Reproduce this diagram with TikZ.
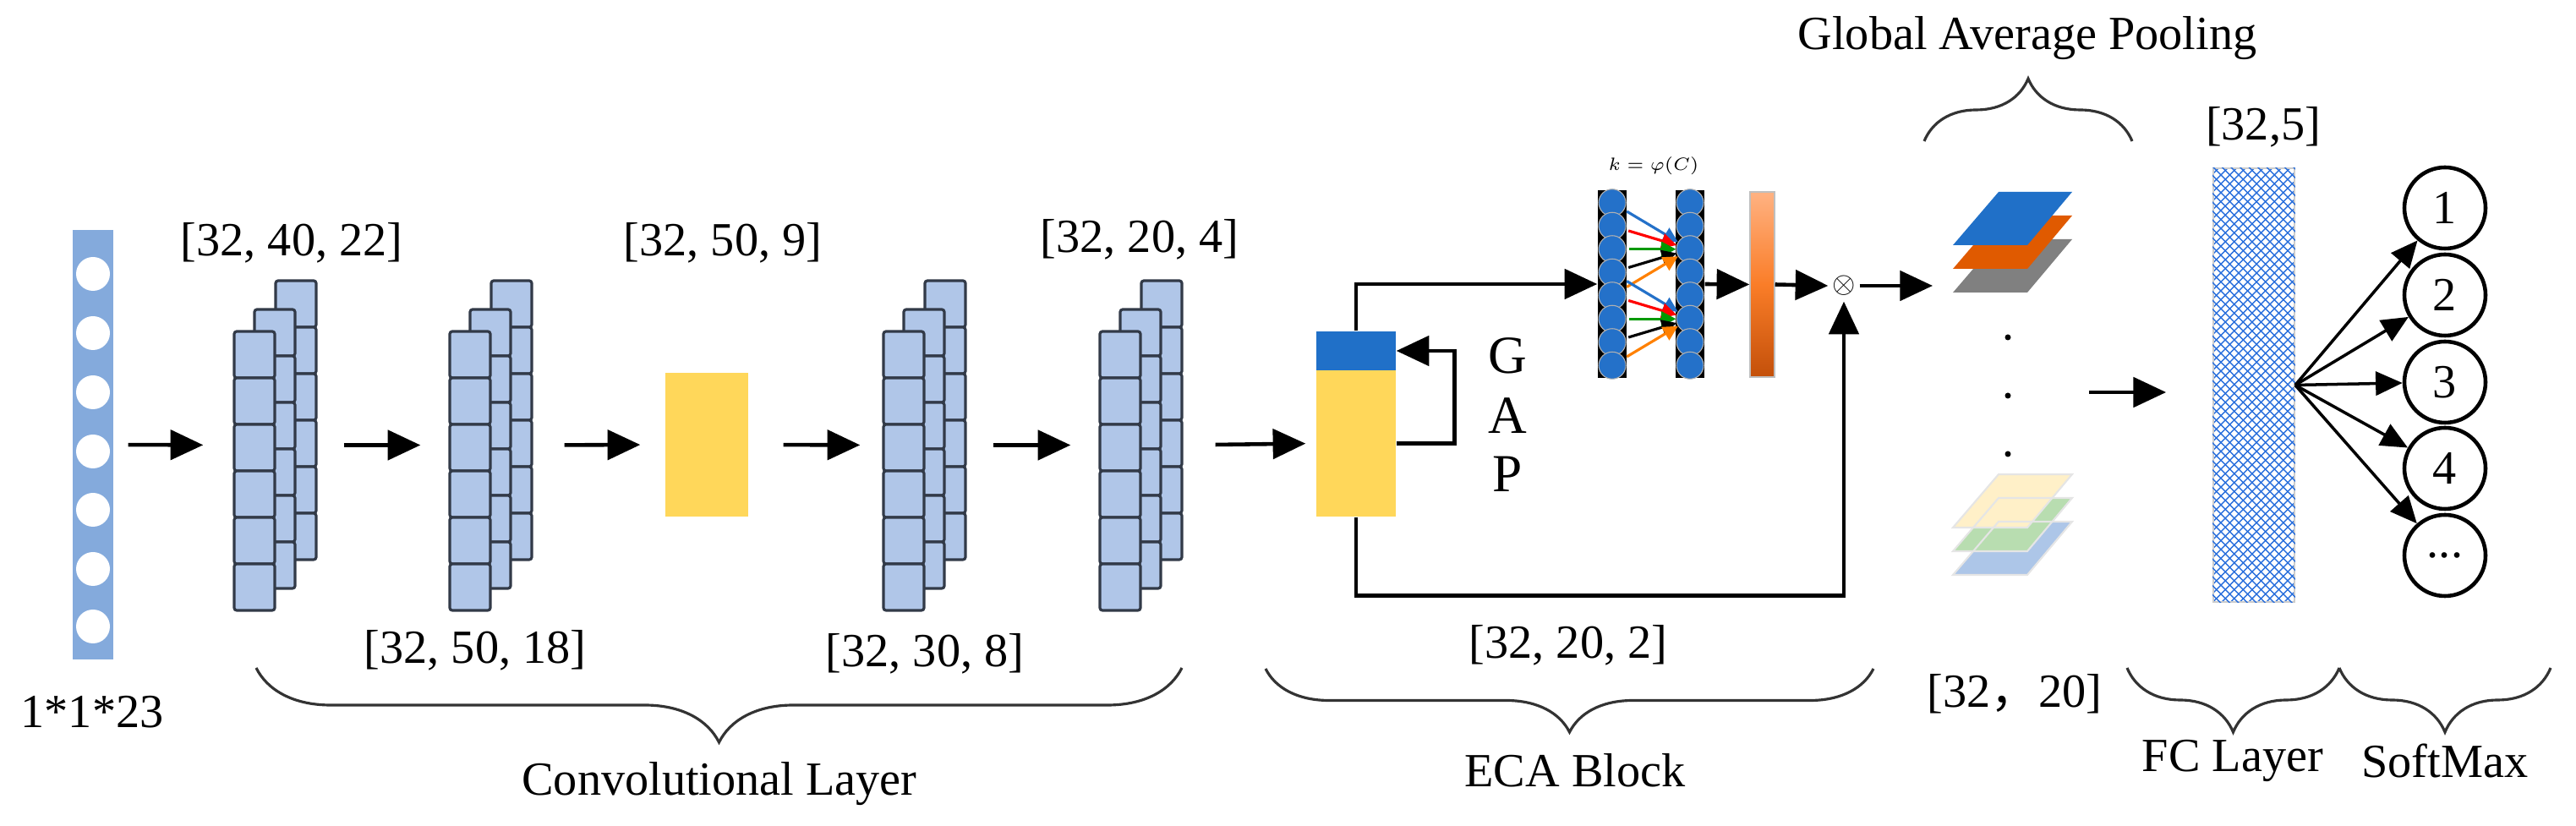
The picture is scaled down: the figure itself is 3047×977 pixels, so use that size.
\documentclass[tikz,border=0pt]{standalone}
\usepackage{fontspec}
\setmainfont{Liberation Serif}
\newfontfamily\cjk{Noto Sans CJK SC}
\usetikzlibrary{arrows.meta,decorations.pathreplacing,patterns,calc}
\newdimen\pxu \pxu=0.01cm
\definecolor{inblue}{RGB}{132,170,220}
\definecolor{sqblue}{RGB}{176,198,232}
\definecolor{sqedge}{RGB}{50,58,72}
\definecolor{ylw}{RGB}{255,215,90}
\definecolor{ecablue}{RGB}{32,112,200}
\definecolor{cblue}{RGB}{36,113,201}
\definecolor{porange}{RGB}{224,90,0}
\definecolor{pgray}{RGB}{128,128,128}
\definecolor{pcream}{RGB}{255,240,200}
\definecolor{pgreen}{RGB}{184,221,176}
\definecolor{plblue}{RGB}{173,198,232}
\definecolor{fcblue}{RGB}{40,110,220}
\definecolor{orA}{RGB}{255,178,130}
\definecolor{orB}{RGB}{250,125,40}
\definecolor{orC}{RGB}{195,80,10}
\tikzset{
  lbl/.style={font=\fontsize{16}{18}\selectfont, inner sep=0},
  arr/.style={line width=1.3pt, -{Triangle[length=11pt,width=10pt]}},
  fan/.style={line width=1pt, -{Triangle[length=9pt,width=8pt]}},
  sm/.style={line width=0.9pt, -{Triangle[length=5pt,width=5pt]}, shorten <=1pt, shorten >=0pt},
  sq/.style={draw=sqedge, line width=0.9pt, fill=sqblue, rounded corners=3\pxu, minimum width=48\pxu, minimum height=55\pxu, inner sep=0},
  box/.style={inner sep=0, minimum width=95\pxu, minimum height=387\pxu},
  brc/.style={decorate, decoration={brace, mirror, amplitude=#1}, line width=0.9pt, draw=black!80},
  outc/.style={circle, draw, line width=1.3pt, minimum size=96\pxu, inner sep=0, font=\fontsize{16}{18}\selectfont},
  ecirc/.style={circle, fill=cblue, draw=gray!60, line width=0.3pt, minimum size=32\pxu, inner sep=0}
}
\newcommand{\cstack}[3]{% name, front-left x, front-top y
  \foreach \i in {0,...,5}{
    \node[sq] (#1b\i) at ({#2+49+24},{#3-60+27.5+55*\i}) {};}
  \foreach \i in {0,...,5}{
    \node[sq] (#1m\i) at ({#2+24+24},{#3-26+27.5+55*\i}) {};}
  \foreach \i in {0,...,5}{
    \node[sq] (#1f\i) at ({#2+24},{#3+27.5+55*\i}) {};}
  \node[box] (#1) at ({#2+47.5},526.5) {};
}
\begin{document}
\begin{tikzpicture}[x=0.01cm,y=-0.01cm]
\useasboundingbox (0,0) rectangle (3047,977);
% input
\node[fill=inblue, minimum width=48\pxu, minimum height=508\pxu, inner sep=0] (in) at (110,526) {};
\foreach \yy [count=\k] in {324,394,464,534,603,673,741}
  \node[circle, fill=white, minimum size=40\pxu, inner sep=0] (in\k) at (110,\yy) {};
\node[lbl] (inlab) at (109,842) {1*1*23};
% stacks
\cstack{sA}{277}{392}
\cstack{sB}{532}{392}
\node[fill=ylw, minimum width=98\pxu, minimum height=170\pxu, inner sep=0] (y1) at (836,526) {};
\cstack{sC}{1045}{392}
\cstack{sD}{1301}{392}
% labels
\node[lbl] (l1) at (345,287) {[32, 40, 22]};
\node[lbl] (l2) at (855,287) {[32, 50, 9]};
\node[lbl] (l3) at (1348,283) {[32, 20, 4]};
\node[lbl] (l4) at (562,769) {[32, 50, 18]};
\node[lbl] (l5) at (1094,773) {[32, 30, 8]};
% ECA block
\node[fill=ylw, minimum width=94\pxu, minimum height=173\pxu, inner sep=0] (ecaY) at (1604,524.5) {};
\node[fill=ecablue, minimum width=94\pxu, minimum height=46\pxu, inner sep=0] (ecaB) at (1604,415) {};
% arrows
\draw[arr, shorten <=17\pxu, shorten >=36\pxu] (in.east) -- (sA.west);
\draw[arr, shorten <=34\pxu, shorten >=34\pxu] (sA.east) -- (sB.west);
\draw[arr, shorten <=40\pxu, shorten >=29\pxu] (sB.east) -- (y1.west);
\draw[arr, shorten <=41\pxu, shorten >=27\pxu] (y1.east) -- (sC.west);
\draw[arr, shorten <=34\pxu, shorten >=34\pxu] (sC.east) -- (sD.west);
\draw[arr, shorten <=41\pxu, shorten >=12\pxu] (sD.east) -- (ecaY.west);
% GAP loop
\draw[arr] (ecaY.east) -- ++(69,0) |- (ecaB.east);
\node[font=\fontsize{18}{20}\selectfont, inner sep=0] (gG) at (1783,421) {G};
\node[font=\fontsize{18}{20}\selectfont, inner sep=0] (gA) at (1783,492) {A};
\node[font=\fontsize{18}{20}\selectfont, inner sep=0] (gP) at (1783,561) {P};
% columns of circles
\node[fill=black, minimum width=34\pxu, minimum height=222\pxu, inner sep=0] (c1) at (1907,336) {};
\node[fill=black, minimum width=34\pxu, minimum height=222\pxu, inner sep=0] (c2) at (1999,336) {};
\foreach \k in {1,...,8}{
  \node[ecirc] (ca\k) at (1907,{226+13.75+27.5*(\k-1)}) {};
  \node[ecirc] (cb\k) at (1999,{226+13.75+27.5*(\k-1)}) {};}
\node[inner sep=0, font=\fontsize{6.5}{8}\selectfont] (keq) at (1956,196) {$k=\varphi(C)$};
\draw[sm, cblue] (ca1) -- (cb3);
\draw[sm, red] (ca2) -- (cb3);
\draw[sm, green!60!black] (ca3) -- (cb3);
\draw[sm, black] (ca4) -- (cb3);
\draw[sm, orange] (ca5) -- (cb3);
\draw[sm, cblue] (ca4) -- (cb6);
\draw[sm, red] (ca5) -- (cb6);
\draw[sm, green!60!black] (ca6) -- (cb6);
\draw[sm, black] (ca7) -- (cb6);
\draw[sm, orange] (ca8) -- (cb6);
\draw[arr] (ecaB.north) |- (c1.west);
% orange bar
\node[top color=orA, bottom color=orC, middle color=orB, draw=gray!50, line width=0.4pt, minimum width=29\pxu, minimum height=219\pxu, inner sep=0] (or1) at (2084.5,336.5) {};
\draw[arr] (c2.east) -- (or1.west);
\node[circle, inner sep=0, font=\fontsize{10}{10}\selectfont] (ot) at (2181,338) {$\otimes$};
\draw[arr] (or1.east) -- (ot.west);
\coordinate (pl) at (2286,338);
\draw[arr] (ot.east) -- (pl);
\draw[arr] (ecaY.south) -- ++(0,93) -| (ot.south);
\node[lbl] (l6) at (1855,763) {[32, 20, 2]};
% planes
\foreach \yy/\cc in {283/pgray,255/porange,227/ecablue,617/plblue,589/pgreen,561/pcream}{
  \fill[\cc] (2364,\yy) -- (2451,\yy) -- (2398,\yy+63) -- (2310,\yy+63) -- cycle;}
\foreach \yy/\cc in {617/plblue,589/pgreen,561/pcream}{
  \draw[white!80!gray, line width=0.6pt] (2364,\yy) -- (2451,\yy) -- (2398,\yy+63) -- (2310,\yy+63) -- cycle;}
\foreach \yy in {399,468,537} \fill (2375,\yy) circle (3.5\pxu);
\node[lbl] (gapt) at (2398,45) {Global Average Pooling};
\node[lbl] (l7) at (2383,821) {[32{\cjk ，}20]};
% FC
\node[draw=gray!40, line width=0.5pt, minimum width=96\pxu, minimum height=513\pxu, inner sep=0,
  pattern=north east lines, pattern color=fcblue] (fc) at (2666,455.5) {};
\fill[pattern=north west lines, pattern color=fcblue] (fc.south west) rectangle (fc.north east);
\node[lbl] (l8) at (2677,150) {[32,5]};
\coordinate (pa) at (2471,464);
\draw[arr, shorten >=55\pxu] (pa) -- (pa -| fc.west);
% outputs
\node[outc] (o1) at (2892,246) {1};
\node[outc] (o2) at (2892,349) {2};
\node[outc] (o3) at (2892,452) {3};
\node[outc] (o4) at (2892,554) {4};
\node[outc] (o5) at (2892,657) {...};
\foreach \k in {1,...,5} \draw[fan] (fc.east) -- (o\k);
% braces
\draw[brc=88\pxu] (303,790) -- (1398,790);
\node[lbl] (bl1) at (851,927) {Convolutional Layer};
\draw[brc=75\pxu] (1497,791) -- (2216,791);
\node[lbl] (bl2) at (1863,911) {ECA Block};
\draw[brc=74\pxu] (2522,167) -- (2276,167);
\draw[brc=76\pxu] (2516,790) -- (2767,790);
\draw[brc=76\pxu] (2767,790) -- (3017,790);
\node[lbl] (bl3) at (2641,900) {FC Layer};
\node[lbl] (bl4) at (2892,900) {SoftMax};
\end{tikzpicture}
\end{document}
